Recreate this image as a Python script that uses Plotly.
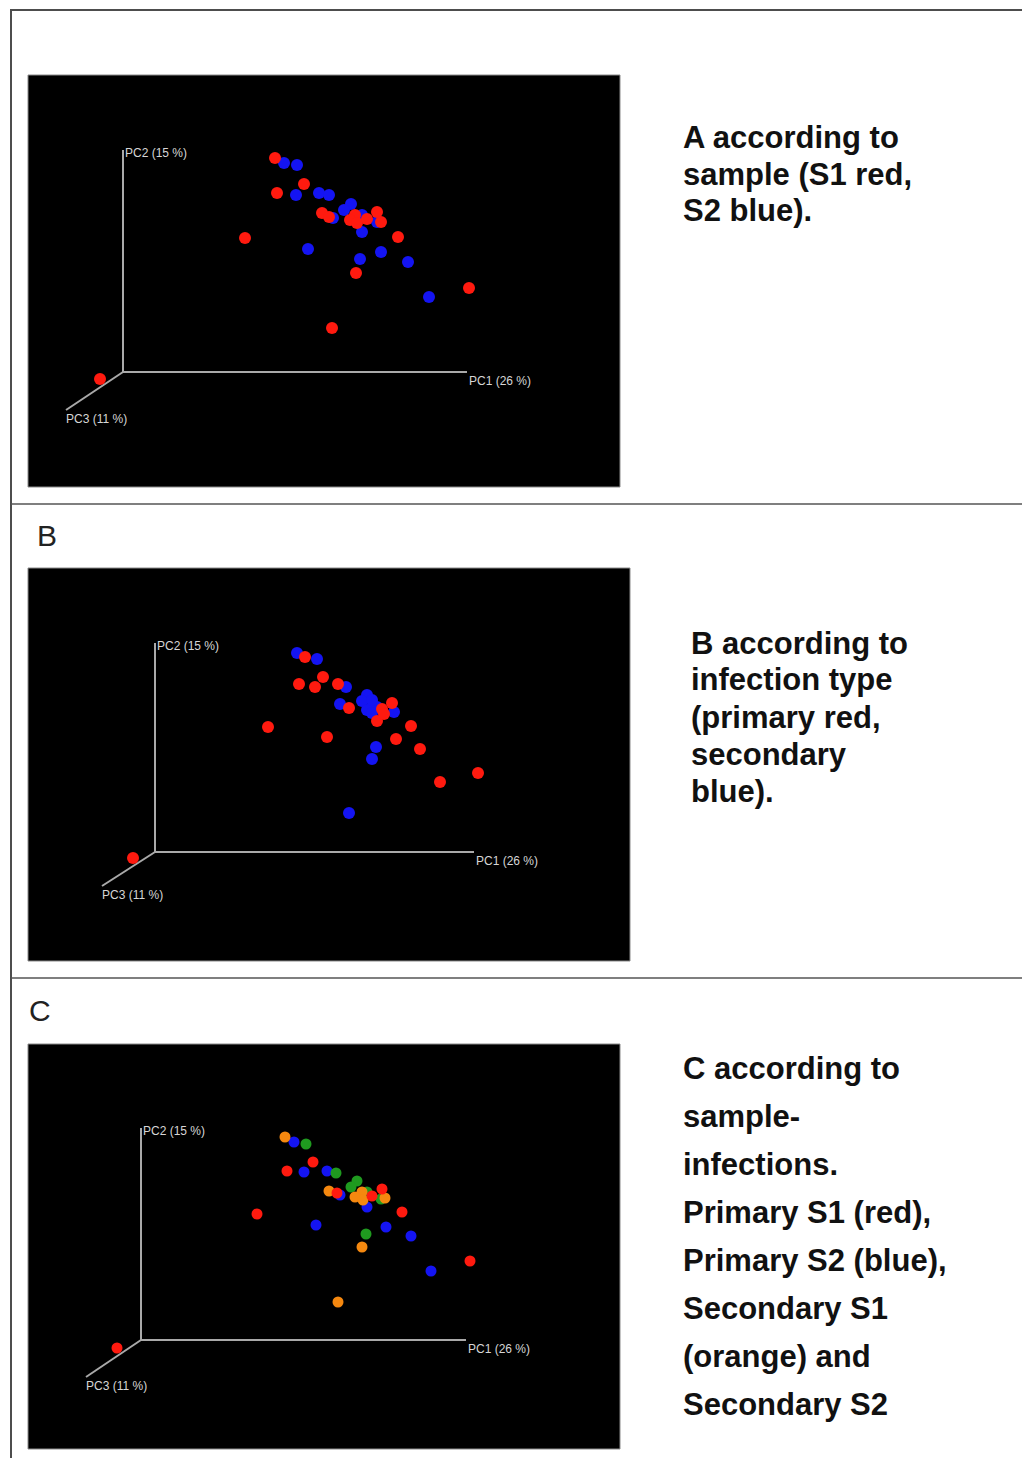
import plotly.graph_objects as go

# ---------------------------------------------------------------
# PCoA ordination (PC1 26 %, PC2 15 %, PC3 11 %), shown as the
# projected 3-D view; coordinates are in projected view units with
# the origin at the corner where the three PC axes meet.
# ---------------------------------------------------------------

# Panel A: by sample
a_s1_x = [152, 181, 154, 199, 206, 232, 227, 234, 244, 254, 258, 122, 275, 233, 346, 209, -23]
a_s1_y = [214, 188, 179, 159, 155, 157, 152, 149, 153, 160, 150, 134, 135, 99, 84, 44, -7]
a_s2_x = [161, 174, 173, 196, 206, 228, 221, 210, 239, 254, 239, 185, 258, 237, 285, 306]
a_s2_y = [209, 207, 177, 179, 177, 168, 162, 154, 157, 150, 140, 123, 120, 113, 110, 75]

# Panel B: by infection type
b_prim_x = [150, 168, 144, 160, 183, 194, 227, 237, 222, 256, 172, 241, 265, 323, 285, 113, -22, 229]
b_prim_y = [195, 175, 168, 165, 168, 144, 143, 149, 131, 126, 115, 113, 103, 79, 70, 125, -6, 138]
b_sec_x = [142, 162, 191, 212, 207, 185, 217, 212, 222, 239, 217, 221, 217, 194, 217]
b_sec_y = [199, 193, 165, 157, 151, 148, 145, 142, 145, 140, 139, 105, 93, 39, 152]

# Panel C: by sample and infection type
c_p_s1_x = [172, 146, 196, 231, 241, 261, 329, 116, -24]
c_p_s1_y = [178, 169, 147, 144, 151, 128, 79, 126, -8]
c_p_s2_x = [153, 163, 186, 199, 226, 175, 245, 270, 290]
c_p_s2_y = [198, 168, 169, 145, 133, 115, 113, 104, 69]
c_s_s1_x = [144, 188, 221, 214, 222, 244, 221, 197]
c_s_s1_y = [203, 149, 148, 143, 140, 142, 93, 38]
c_s_s2_x = [165, 195, 216, 210, 226, 240, 225]
c_s_s2_y = [196, 167, 159, 153, 148, 141, 106]

# Projected end points of the PC1 / PC2 / PC3 axes in each panel
axis_names = ["PC1 (26 %)", "PC2 (15 %)", "PC3 (11 %)"]
a_axis_end = [(344, 0), (0, 222), (-57, -38)]
b_axis_end = [(319, 0), (0, 209), (-53, -34)]
c_axis_end = [(325, 0), (0, 212), (-55, -37)]

# Caption text next to each panel
caption_a = ["A according to", "sample (S1 red,", "S2 blue)."]
caption_b = ["B according to", "infection type", "(primary red,", "secondary", "blue)."]
caption_c = ["C according to", "sample-", "infections.", "Primary S1 (red),",
             "Primary S2 (blue),", "Secondary S1", "(orange) and", "Secondary S2"]
panel_letters = ["B", "C"]

RED = "#ff1a0f"
BLUE = "#1414f2"
ORANGE = "#f5880f"
GREEN = "#1f9a1f"
AXIS_GREY = "#a9a9a9"

W, H = 1022, 1458


def px_x(v):
    return v / W


def px_y(v):
    return 1 - v / H


fig = go.Figure()

# panel geometry in page pixels: (left, top, right, bottom, origin_x, origin_y)
panels = [
    (28, 75, 620, 487, 123, 372),
    (28, 568, 630, 961, 155, 852),
    (28, 1044, 620, 1449, 141, 1340),
]

for i, (l, t, r, b, ox, oy) in enumerate(panels):
    suffix = "" if i == 0 else str(i + 1)
    fig.layout["xaxis" + suffix] = dict(
        domain=[px_x(l), px_x(r)], range=[l - ox, r - ox],
        showgrid=False, zeroline=False, showticklabels=False, ticks="",
        showline=False, fixedrange=True, anchor="y" + suffix,
    )
    fig.layout["yaxis" + suffix] = dict(
        domain=[px_y(b), px_y(t)], range=[oy - b, oy - t],
        showgrid=False, zeroline=False, showticklabels=False, ticks="",
        showline=False, fixedrange=True, anchor="x" + suffix,
    )


def add_axes(ends, xa, ya, label_pos):
    for (ex, ey) in ends:
        fig.add_trace(go.Scatter(x=[0, ex], y=[0, ey], mode="lines",
                                 line=dict(color=AXIS_GREY, width=2),
                                 hoverinfo="skip", showlegend=False,
                                 xaxis=xa, yaxis=ya))
    for name, (lx, ly) in zip(axis_names, label_pos):
        fig.add_annotation(x=lx, y=ly, xref=xa, yref=ya, text=name,
                           showarrow=False, xanchor="left", yanchor="middle",
                           font=dict(family="Liberation Sans", size=12, color="#d6d6d6"))


def add_points(xs, ys, color, size, xa, ya, name):
    fig.add_trace(go.Scatter(x=xs, y=ys, mode="markers", name=name,
                             marker=dict(color=color, size=size, line=dict(width=0)),
                             showlegend=False, xaxis=xa, yaxis=ya))


# label anchor points follow from the axis end points
def label_positions(ends):
    (p1x, p1y), (p2x, p2y), (p3x, p3y) = ends
    return [(p1x, p1y - 9), (p2x, p2y - 3), (p3x - 2, p3y - 9)]


add_axes(a_axis_end, "x", "y", label_positions(a_axis_end))
add_points(a_s2_x, a_s2_y, BLUE, 12, "x", "y", "S2")
add_points(a_s1_x, a_s1_y, RED, 12, "x", "y", "S1")

add_axes(b_axis_end, "x2", "y2", label_positions(b_axis_end))
add_points(b_sec_x, b_sec_y, BLUE, 12, "x2", "y2", "secondary")
add_points(b_prim_x, b_prim_y, RED, 12, "x2", "y2", "primary")

add_axes(c_axis_end, "x3", "y3", label_positions(c_axis_end))
add_points(c_p_s2_x, c_p_s2_y, BLUE, 11, "x3", "y3", "Primary S2")
add_points(c_s_s2_x, c_s_s2_y, GREEN, 11, "x3", "y3", "Secondary S2")
add_points(c_s_s1_x, c_s_s1_y, ORANGE, 11, "x3", "y3", "Secondary S1")
add_points(c_p_s1_x, c_p_s1_y, RED, 11, "x3", "y3", "Primary S1")

# captions, one annotation per line
caption_font = dict(family="Liberation Sans", size=31, color="#111111", weight="bold")


def add_caption(lines, x0, y0, step):
    for k, line in enumerate(lines):
        fig.add_annotation(x=px_x(x0), y=px_y(y0 + k * step), xref="paper", yref="paper",
                           text=line, showarrow=False, xanchor="left", yanchor="middle",
                           font=caption_font)


add_caption(caption_a, 681, 137, 37)
add_caption(caption_b, 689, 643, 37)
add_caption(caption_c, 681, 1068, 48)

letter_font = dict(family="Liberation Sans", size=30, color="#222222")
fig.add_annotation(x=px_x(35), y=px_y(536), xref="paper", yref="paper", text=panel_letters[0],
                   showarrow=False, xanchor="left", yanchor="middle", font=letter_font)
fig.add_annotation(x=px_x(27), y=px_y(1010), xref="paper", yref="paper", text=panel_letters[1],
                   showarrow=False, xanchor="left", yanchor="middle", font=letter_font)

# table rules
rule = dict(color="#4d4d4d", width=2)
fig.add_shape(type="line", xref="paper", yref="paper", x0=px_x(10), x1=1,
              y0=px_y(10), y1=px_y(10), line=rule)
fig.add_shape(type="line", xref="paper", yref="paper", x0=px_x(11), x1=px_x(11),
              y0=px_y(10), y1=0, line=rule)
for sy in (504, 978):
    fig.add_shape(type="line", xref="paper", yref="paper", x0=px_x(11), x1=1,
                  y0=px_y(sy), y1=px_y(sy), line=dict(color="#555555", width=1.5))

# thin grey rim around the black panels
for (l, t, r, b, ox, oy) in panels:
    fig.add_shape(type="rect", xref="paper", yref="paper",
                  x0=px_x(l), x1=px_x(r), y0=px_y(b), y1=px_y(t),
                  line=dict(color="#8a8a8a", width=1), layer="below")

fig.update_layout(
    width=W, height=H,
    margin=dict(l=0, r=0, t=0, b=0),
    paper_bgcolor="white",
    plot_bgcolor="black",
    showlegend=False,
)

fig.write_html("out.html", config={"displayModeBar": False})
